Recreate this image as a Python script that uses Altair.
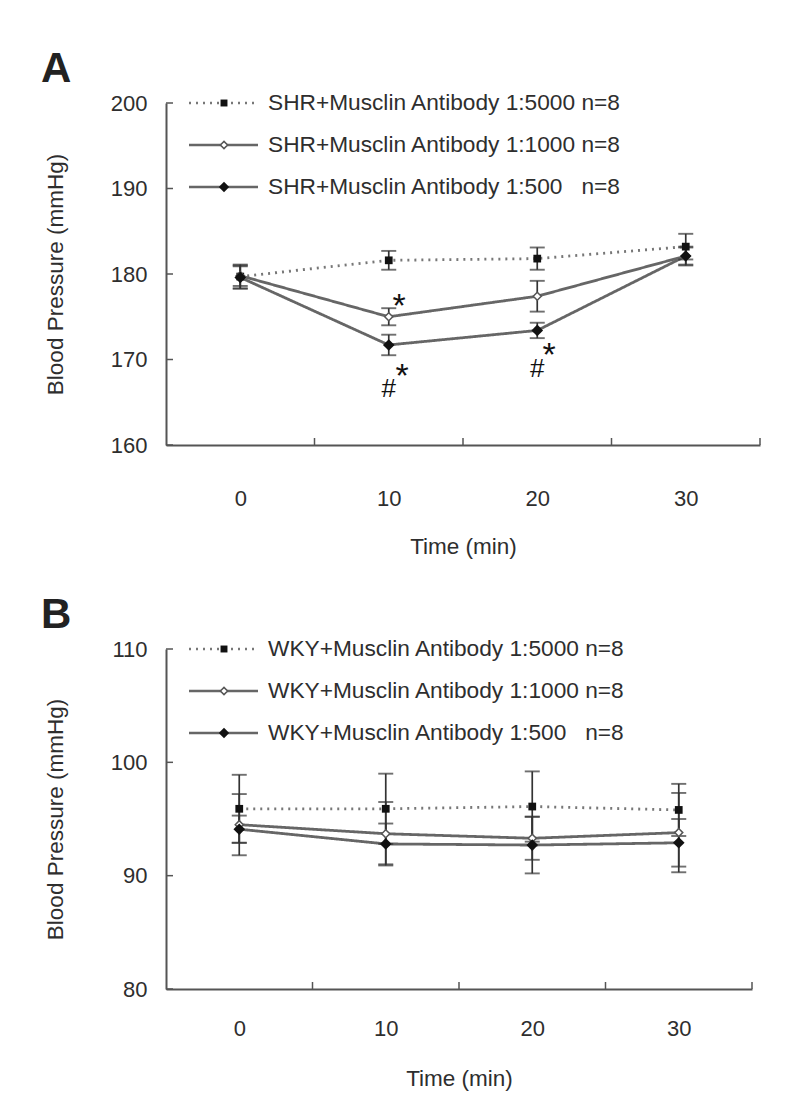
import altair as alt
import pandas as pd

FONT = "Liberation Sans"
TXT = "#2e2e2e"
AX = "#555555"
LINE = "#666666"
MK = "#111111"

# ---------------- data ----------------
time_min = [0, 10, 20, 30]
x_bounds = [5, 15, 25, 35]

a_labels = ["SHR+Musclin Antibody 1:5000 n=8",
            "SHR+Musclin Antibody 1:1000 n=8",
            "SHR+Musclin Antibody 1:500\u00a0\u00a0\u00a0n=8"]
a_5000 = [179.7, 181.6, 181.8, 183.2]
a_5000_err = [1.4, 1.1, 1.3, 1.5]
a_1000 = [179.8, 175.0, 177.4, 182.1]
a_1000_err = [1.2, 1.0, 1.8, 1.1]
a_500 = [179.6, 171.7, 173.4, 182.1]
a_500_err = [1.3, 1.2, 0.9, 1.0]
a_yticks = [160, 170, 180, 190, 200]

ann_a_text = ["*", "*", "#", "*", "#"]
ann_a_x = [10.7, 10.9, 10.0, 20.8, 20.0]
ann_a_y = [177.1, 168.9, 166.6, 171.3, 168.9]

b_labels = ["WKY+Musclin Antibody 1:5000 n=8",
            "WKY+Musclin Antibody 1:1000 n=8",
            "WKY+Musclin Antibody 1:500\u00a0\u00a0\u00a0n=8"]
b_5000 = [95.9, 95.9, 96.1, 95.8]
b_5000_err = [3.0, 3.1, 3.1, 2.3]
b_1000 = [94.5, 93.7, 93.3, 93.8]
b_1000_err = [2.7, 2.8, 1.9, 3.5]
b_500 = [94.1, 92.8, 92.7, 92.9]
b_500_err = [1.2, 1.8, 2.5, 2.1]
b_yticks = [80, 90, 100, 110]

STYLES = [
    dict(dash=[2, 5], shape="square", fill=MK, stroke=MK, size=60, sw=0),
    dict(dash=[1, 0], shape="diamond", fill="white", stroke="#555555", size=65, sw=1.5),
    dict(dash=[1, 0], shape="diamond", fill=MK, stroke=MK, size=135, sw=0),
]


def panel(letter, labels, series, errs, ydom, yticks, W, H,
          lab_pad, title_pad, ann=None):
    xs = alt.Scale(domain=[-5, 35], nice=False, zero=False)
    ys = alt.Scale(domain=ydom, nice=False, zero=False)
    xaxis = alt.Axis(values=time_min, ticks=False, tickSize=0, grid=False,
                     labelPadding=lab_pad, title="Time (min)",
                     titlePadding=title_pad, domainColor=AX, domainWidth=2)
    yaxis = alt.Axis(values=yticks, ticks=False, tickSize=0, grid=False,
                     labelPadding=19, title="Blood Pressure (mmHg)",
                     titlePadding=43, domainColor=AX, domainWidth=2)

    def X(f):
        return alt.X(f, type="quantitative", scale=xs, axis=xaxis)

    def Y(f):
        return alt.Y(f, type="quantitative", scale=ys, axis=yaxis)

    layers = []
    # inward y ticks
    ydf = pd.DataFrame({"v": yticks})
    layers.append(alt.Chart(ydf).mark_rule(color=AX, strokeWidth=1.5).encode(
        y=Y("v"), x=alt.value(0), x2=alt.value(7)))
    # inward x boundary ticks
    xdf = pd.DataFrame({"t": x_bounds})
    layers.append(alt.Chart(xdf).mark_rule(color=AX, strokeWidth=1.5).encode(
        x=X("t"), y=alt.value(H), y2=alt.value(H - 7)))

    dfs = []
    for vals, err in zip(series, errs):
        dfs.append(pd.DataFrame({
            "t": time_min, "v": vals,
            "lo": [v - e for v, e in zip(vals, err)],
            "hi": [v + e for v, e in zip(vals, err)]}))
    # lines
    for df, st in zip(dfs, STYLES):
        dotted = st["dash"] != [1, 0]
        layers.append(alt.Chart(df).mark_line(
            color="#777777" if dotted else LINE,
            strokeWidth=2.8,
            strokeDash=st["dash"]).encode(x=X("t"), y=Y("v")))
    # error bars
    for df in dfs:
        layers.append(alt.Chart(df).mark_rule(color="#333333", strokeWidth=1.7).encode(
            x=X("t"), y=Y("lo"), y2="hi"))
        for f in ["lo", "hi"]:
            layers.append(alt.Chart(df).mark_tick(
                orient="horizontal", size=15, thickness=1.9, color="#333333").encode(
                x=X("t"), y=Y(f)))
    # points
    for df, st in zip(dfs, STYLES):
        layers.append(alt.Chart(df).mark_point(
            shape=st["shape"], filled=True, fill=st["fill"], stroke=st["stroke"],
            strokeWidth=st["sw"], size=st["size"], opacity=1).encode(
            x=X("t"), y=Y("v")))

    # annotations
    if ann is not None:
        adf = pd.DataFrame({"t": ann[1], "v": ann[2], "s": ann[0]})
        layers.append(alt.Chart(adf).transform_filter(alt.datum.s == "*").mark_text(
            font=FONT, fontSize=34, color="#111111", baseline="middle", dy=8).encode(
            x=X("t"), y=Y("v"), text="s:N"))
        layers.append(alt.Chart(adf).transform_filter(alt.datum.s == "#").mark_text(
            font=FONT, fontSize=26, color="#111111", baseline="middle").encode(
            x=X("t"), y=Y("v"), text="s:N"))

    # legend (hand-drawn, inside plot)
    one = pd.DataFrame({"k": [0]})
    row_y = [0, 42, 84]
    for lab, st, ry in zip(labels, STYLES, row_y):
        dotted = st["dash"] != [1, 0]
        layers.append(alt.Chart(one).mark_rule(
            color="#777777" if dotted else LINE, strokeWidth=2.4,
            strokeDash=st["dash"]).encode(
            x=alt.value(23), x2=alt.value(92), y=alt.value(ry)))
        layers.append(alt.Chart(one).mark_point(
            shape=st["shape"], filled=True, fill=st["fill"], stroke=st["stroke"],
            strokeWidth=st["sw"], size=st["size"] * 0.8, opacity=1).encode(
            x=alt.value(58), y=alt.value(ry)))
        layers.append(alt.Chart(one).mark_text(
            text=lab, font=FONT, fontSize=22.7, color=TXT, align="left",
            baseline="middle").encode(x=alt.value(102), y=alt.value(ry)))

    # panel letter
    layers.append(alt.Chart(one).mark_text(
        text=letter, font=FONT, fontSize=42, fontWeight="bold", color="#222222",
        align="left", baseline="alphabetic").encode(
        x=alt.value(-125), y=alt.value(-21)))

    return alt.layer(*layers).properties(width=W, height=H)


pa = panel("A", a_labels, [a_5000, a_1000, a_500],
           [a_5000_err, a_1000_err, a_500_err], [160, 200], a_yticks,
           594, 342, 43, 26, ann=(ann_a_text, ann_a_x, ann_a_y))
pb = panel("B", b_labels, [b_5000, b_1000, b_500],
           [b_5000_err, b_1000_err, b_500_err], [80, 110], b_yticks,
           586, 340, 29, 28)

chart = alt.vconcat(pa, pb, spacing=36).properties(
    padding={"left": 33, "top": 40, "right": 5, "bottom": 5}
).configure_view(stroke=None).configure_axis(
    labelFont=FONT, labelFontSize=22, labelColor=TXT,
    titleFont=FONT, titleFontSize=22.5, titleColor=TXT, titleFontWeight="normal"
)

chart.save("out.html", embed_options={"renderer": "svg", "actions": False})
